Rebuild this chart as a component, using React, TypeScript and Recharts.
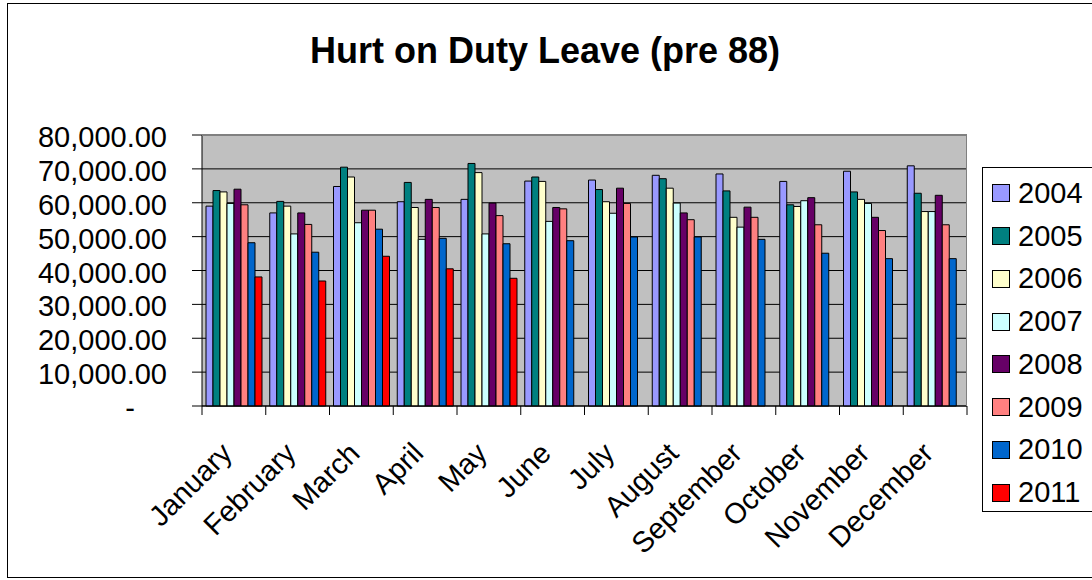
import React from "react";
import { BarChart, Bar, XAxis, YAxis, CartesianGrid, Legend } from "recharts";

// categories and series
const months = [
  "January", "February", "March", "April", "May", "June",
  "July", "August", "September", "October", "November", "December",
];
const years = ["2004", "2005", "2006", "2007", "2008", "2009", "2010", "2011"];

const y2004 = [59000, 57000, 64800, 60300, 61000, 66400, 66700, 68100, 68500, 66300, 69300, 70900];
const y2005 = [63600, 60400, 70500, 66000, 71600, 67600, 63900, 67100, 63500, 59400, 63200, 62800];
const y2006 = [63200, 59000, 67600, 58600, 68900, 66300, 60300, 64300, 55700, 58900, 61000, 57400];
const y2007 = [59800, 50800, 54100, 49200, 50800, 54500, 56900, 59900, 52800, 60600, 59800, 57400];
const y2008 = [64000, 57000, 57800, 61000, 59900, 58600, 64300, 57000, 58700, 61500, 55700, 62200];
const y2009 = [59400, 53600, 57800, 58600, 56200, 58200, 59800, 55000, 55700, 53500, 51800, 53500];
const y2010 = [48200, 45400, 52200, 49500, 47900, 48800, 49900, 49900, 49200, 45100, 43500, 43500];
const y2011 = [38100, 36900, 44200, 40500, 37700, null, null, null, null, null, null, null];

const yTicks = [0, 10000, 20000, 30000, 40000, 50000, 60000, 70000, 80000];

const yearColors = ["#9999FF", "#008080", "#FFFFCC", "#CCFFFF", "#660066", "#FF8080", "#0066CC", "#FF0000"];

const seriesValues = [y2004, y2005, y2006, y2007, y2008, y2009, y2010, y2011];

const data = months.map((m, i) => {
  const row: { [key: string]: string | number | null } = { month: m };
  years.forEach((yr, j) => {
    row[yr] = seriesValues[j][i];
  });
  return row;
});

const W = 1092;
const H = 580;
const PLOT_LEFT = 202;
const PLOT_RIGHT = 967;
const PLOT_TOP = 135;
const PLOT_BOTTOM = 406;
const FONT = '"Liberation Sans", Arial, Helvetica, sans-serif';

const fmt = (v: number) =>
  v === 0 ? "-" : v.toLocaleString("en-US", { minimumFractionDigits: 2, maximumFractionDigits: 2 });

function ValueTick(props: any) {
  const { x, y, payload } = props;
  const v = payload.value as number;
  return (
    <text x={v === 0 ? x - 32 : x} y={y} dy={12} textAnchor="end" fontSize={29} fill="#000" fontFamily={FONT}>
      {fmt(v)}
    </text>
  );
}

function MonthTick(props: any) {
  const { x, y, payload, index } = props;
  const band = (PLOT_RIGHT - PLOT_LEFT) / months.length;
  const ax = x;
  const ay = y + 40;
  return (
    <g>
      <line x1={x - band / 2} x2={x - band / 2} y1={y - 9} y2={y} stroke="#000" />
      {index === months.length - 1 && (
        <line x1={x + band / 2} x2={x + band / 2} y1={y - 9} y2={y} stroke="#000" />
      )}
      <text
        x={ax}
        y={ay}
        textAnchor="end"
        transform={`rotate(-45 ${ax} ${ay})`}
        fontSize={29}
        fill="#000"
        fontFamily={FONT}
      >
        {payload.value}
      </text>
    </g>
  );
}

function YearLegend({ payload }: any) {
  return (
    <div
      style={{
        boxSizing: "border-box",
        width: 120,
        height: 345,
        border: "1px solid #000",
        borderRight: "none",
        paddingTop: 4,
        fontFamily: FONT,
      }}
    >
      {(payload || []).map((entry: any) => (
        <div key={entry.value} style={{ display: "flex", alignItems: "center", height: 42.75 }}>
          <span
            style={{
              display: "inline-block",
              boxSizing: "border-box",
              width: 18,
              height: 18,
              border: "1px solid #000",
              background: entry.color,
              marginLeft: 9,
              marginRight: 8,
            }}
          />
          <span style={{ fontSize: 29, lineHeight: 1, color: "#000" }}>{entry.value}</span>
        </div>
      ))}
    </div>
  );
}

export default function App() {
  return (
    <div style={{ position: "relative", width: W, height: H, overflow: "hidden", background: "#fff", fontFamily: FONT }}>
      <style>{"body{margin:0;overflow:hidden}"}</style>
      <div
        style={{
          position: "absolute",
          left: 7,
          top: 3,
          width: W + 10,
          height: H - 5,
          border: "1px solid #000",
          boxSizing: "border-box",
        }}
      />
      <div
        style={{
          position: "absolute",
          left: 0,
          top: 33,
          width: 1090,
          textAlign: "center",
          fontSize: 36,
          lineHeight: "36px",
          fontWeight: "bold",
          color: "#000",
        }}
      >
        Hurt on Duty Leave (pre 88)
      </div>
      <BarChart
        width={W}
        height={H}
        data={data}
        margin={{ top: PLOT_TOP, right: W - PLOT_RIGHT, bottom: 0, left: 0 }}
        barSize={7}
        barGap={0}
      >
        <CartesianGrid vertical={false} stroke="#000" fill="#C0C0C0" fillOpacity={1} />
        <XAxis
          dataKey="month"
          height={H - PLOT_BOTTOM}
          interval={0}
          tickSize={9}
          tickMargin={0}
          tickLine={false}
          axisLine={{ stroke: "#000" }}
          tick={<MonthTick />}
        />
        <YAxis
          width={PLOT_LEFT}
          domain={[0, 80000]}
          ticks={yTicks}
          interval={0}
          tickSize={10}
          tickMargin={25}
          axisLine={{ stroke: "#000" }}
          tickLine={{ stroke: "#000" }}
          tick={<ValueTick />}
        />
        <Legend
          layout="vertical"
          align="center"
          verticalAlign="middle"
          wrapperStyle={{ left: 982, top: 167, width: 120, height: 345 }}
          content={<YearLegend />}
        />
        {years.map((yr, j) => (
          <Bar
            key={yr}
            dataKey={yr}
            name={yr}
            fill={yearColors[j]}
            stroke="#000"
            strokeWidth={1}
            isAnimationActive={false}
          />
        ))}
      </BarChart>
      <div
        style={{
          position: "absolute",
          left: PLOT_LEFT,
          top: PLOT_TOP,
          width: PLOT_RIGHT - PLOT_LEFT,
          height: PLOT_BOTTOM - PLOT_TOP,
          borderTop: "1px solid #808080",
          borderRight: "1px solid #808080",
          boxSizing: "border-box",
          pointerEvents: "none",
        }}
      />
    </div>
  );
}
